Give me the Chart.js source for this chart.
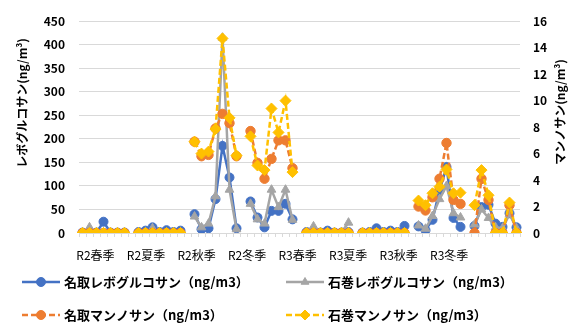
<!DOCTYPE html>
<html lang="ja">
<head>
<meta charset="utf-8">
<title>レボグルコサン・マンノサン濃度</title>
<script src="https://cdn.jsdelivr.net/npm/chart.js@4/dist/chart.umd.min.js"></script>
<style>
  html, body { margin: 0; padding: 0; background: #fff; }
  canvas { display: block; }
</style>
</head>
<body>
<canvas id="chart" width="574" height="325"></canvas>
<script>
// Sampling seasons; each season holds seven consecutive samples.
const seasons = ['R2春季', 'R2夏季', 'R2秋季', 'R2冬季', 'R3春季', 'R3夏季', 'R3秋季', 'R3冬季'];

// Levoglucosan (ng/m3), left axis
const natoriLevo = [
  [1, 2, 1, 24, 1, 1, 1],
  [2, 5, 12, 2, 6, 2, 5],
  [40, 8, 10, 72, 185, 118, 10],
  [67, 33, 12, 47, 47, 62, 29],
  [2, 2, 1, 5, 1, 1, 2],
  [1, 2, 10, 2, 5, 2, 15],
  [14, 6, 28, 90, 140, 32, 13],
  [15, 55, 60, 20, 13, 42, 12]
];
const ishinomakiLevo = [
  [1, 12, 1, 1, 1, 1, 1],
  [1, 2, 10, 1, 1, 1, 1],
  [35, 12, 20, 78, 415, 92, 8],
  [62, 29, 20, 92, 55, 92, 28],
  [2, 14, 1, 2, 1, 2, 22],
  [1, 1, 1, 1, 1, 1, 1],
  [16, 9, 36, 72, 100, 42, 33],
  [18, 50, 32, 12, 10, 40, 10]
];

// Mannosan (ng/m3), right axis
const natoriMannosan = [
  [0, 0, 0, 0, 0, 0, 0],
  [0, 0, 0, 0, 0, 0, 0],
  [6.9, 5.8, 5.9, 7.9, 9.0, 8.3, 5.8],
  [7.7, 5.3, 4.1, 5.6, 7.0, 7.0, 4.9],
  [0, 0, 0, 0, 0, 0, 0],
  [0, 0, 0, 0, 0, 0, 0],
  [2.0, 1.7, 2.7, 4.1, 6.8, 2.5, 2.2],
  [0, 4.1, 2.5, 0, 0, 2.1, 0]
];
const ishinomakiMannosan = [
  [0, 0, 0, 0, 0, 0, 0],
  [0, 0, 0, 0, 0, 0, 0],
  [6.9, 6.0, 6.15, 7.85, 14.7, 8.7, 5.85],
  [7.3, 5.1, 4.75, 9.4, 7.6, 10.0, 4.6],
  [0, 0, 0, 0, 0, 0, 0],
  [0, 0, 0, 0, 0, 0, 0],
  [2.45, 2.1, 3.0, 3.5, 4.8, 3.0, 3.05],
  [2.1, 4.75, 2.85, 0, 0, 2.3, 0]
];

// Axis ranges
const leftMax = 450, leftStep = 50;
const rightMax = 16, rightStep = 2;

// Seasons are separated by one empty category so the lines break between them.
function joinSeasons(groups) {
  const out = [];
  groups.forEach((g, k) => {
    out.push(...g);
    if (k < groups.length - 1) out.push(null);
  });
  return out;
}
const slotLabels = joinSeasons(seasons.map(s => Array(7).fill(s)))
  .map(v => v === null ? '' : v);
const slotCount = slotLabels.length;

// Where the season names sit along the category axis (in category units).
const seasonLabelAt = seasons.map((s, k) => 1.85 + 7.22 * k);

const FONT = "'Noto Sans CJK JP', 'Noto Sans', sans-serif";
Chart.defaults.font.family = FONT;

const datasets = [
  {
    label: '名取レボグルコサン（ng/m3）',
    data: joinSeasons(natoriLevo),
    yAxisID: 'y',
    borderColor: '#4472C4', backgroundColor: '#4472C4',
    pointStyle: 'circle', pointRadius: 4.5,
    order: 4
  },
  {
    label: '石巻レボグルコサン（ng/m3）',
    data: joinSeasons(ishinomakiLevo),
    yAxisID: 'y',
    borderColor: '#A5A5A5', backgroundColor: '#A5A5A5',
    pointStyle: 'triangle', pointRadius: 5,
    order: 3
  },
  {
    label: '名取マンノサン（ng/m3）',
    data: joinSeasons(natoriMannosan),
    yAxisID: 'y2',
    borderColor: '#ED7D31', backgroundColor: '#ED7D31',
    borderDash: [6, 3],
    pointStyle: 'circle', pointRadius: 4.7,
    order: 2
  },
  {
    label: '石巻マンノサン（ng/m3）',
    data: joinSeasons(ishinomakiMannosan),
    yAxisID: 'y2',
    borderColor: '#FFC000', backgroundColor: '#FFC000',
    borderDash: [6, 3],
    pointStyle: 'rectRot', pointRadius: 5.5,
    order: 1
  }
];
datasets.forEach(d => {
  d.borderWidth = 2.5;
  d.pointBorderWidth = 1;
  d.pointHoverRadius = d.pointRadius;
  d.spanGaps = false;
  d.tension = 0;
  d.xAxisID = 'x';
});

// Rotated axis titles, both reading bottom-to-top.
const axisTitles = {
  id: 'axisTitles',
  afterDraw(chart) {
    const ctx = chart.ctx;
    ctx.save();
    ctx.fillStyle = '#000';
    ctx.font = 'bold 12px ' + FONT;
    ctx.textAlign = 'center';
    ctx.textBaseline = 'middle';
    [['レボグルコサン(ng/m³)', 22, 103], ['マンノサン(ng/m³)', 560, 112]].forEach(([t, x, y]) => {
      ctx.save();
      ctx.translate(x, y);
      ctx.rotate(-Math.PI / 2);
      ctx.fillText(t, 0, 0);
      ctx.restore();
    });
    ctx.restore();
  }
};

// Two-column legend under the axis.
const gridLegend = {
  id: 'gridLegend',
  afterDraw(chart) {
    const ctx = chart.ctx;
    const colX = [22, 286];
    const rowY = [282, 315];
    chart.data.datasets.forEach((ds, i) => {
      const x = colX[i % 2];
      const y = rowY[Math.floor(i / 2)];
      ctx.save();
      ctx.strokeStyle = ds.borderColor;
      ctx.lineWidth = 2.5;
      ctx.setLineDash(ds.borderDash || []);
      ctx.beginPath();
      ctx.moveTo(x, y);
      ctx.lineTo(x + 38, y);
      ctx.stroke();
      ctx.setLineDash([]);
      ctx.fillStyle = ds.backgroundColor;
      ctx.lineWidth = 1;
      Chart.helpers.drawPoint(ctx, {
        pointStyle: ds.pointStyle,
        radius: ds.pointStyle === 'rectRot' ? 5 : 4.5,
        rotation: 0,
        borderWidth: 1
      }, x + 19, y);
      ctx.fillStyle = '#000';
      ctx.font = 'bold 13px ' + FONT;
      ctx.textAlign = 'left';
      ctx.textBaseline = 'middle';
      ctx.fillText(ds.label, x + 42, y);
      ctx.restore();
    });
  }
};

new Chart(document.getElementById('chart'), {
  type: 'line',
  data: { labels: slotLabels, datasets },
  plugins: [axisTitles, gridLegend],
  options: {
    responsive: false,
    animation: false,
    events: [],
    layout: { padding: { top: 15, bottom: 62, left: 0, right: 0 } },
    plugins: {
      legend: { display: false },
      tooltip: { enabled: false }
    },
    scales: {
      x: {
        type: 'category',
        position: 'bottom',
        offset: true,
        grid: {
          offset: true,
          drawOnChartArea: false,
          drawTicks: true,
          tickLength: 4,
          color: '#d9d9d9'
        },
        border: { display: true, color: '#d9d9d9', width: 1 },
        ticks: { display: false, autoSkip: false },
        afterFit(axis) { axis.height = 4; }
      },
      x2: {
        type: 'linear',
        position: 'bottom',
        min: -0.5,
        max: slotCount - 0.5,
        grid: { display: false, drawTicks: false },
        border: { display: false },
        afterBuildTicks(axis) {
          axis.ticks = seasonLabelAt.map(v => ({ value: v }));
        },
        ticks: {
          autoSkip: false,
          maxRotation: 0,
          padding: 11,
          color: '#000',
          font: { size: 12 },
          callback: (v, i) => seasons[i]
        },
        afterFit(axis) { axis.height = 26; }
      },
      y: {
        position: 'left',
        min: 0,
        max: leftMax,
        grid: { color: '#d9d9d9', drawTicks: false },
        border: { display: false },
        ticks: {
          stepSize: leftStep,
          padding: 14,
          color: '#000',
          font: { size: 12, weight: 'bold' }
        },
        afterFit(axis) { axis.width = 79; }
      },
      y2: {
        position: 'right',
        min: 0,
        max: rightMax,
        grid: { drawOnChartArea: false, drawTicks: false },
        border: { display: false },
        ticks: {
          stepSize: rightStep,
          padding: 13,
          color: '#000',
          font: { size: 12, weight: 'bold' }
        },
        afterFit(axis) { axis.width = 54; }
      }
    }
  }
});
</script>
</body>
</html>
